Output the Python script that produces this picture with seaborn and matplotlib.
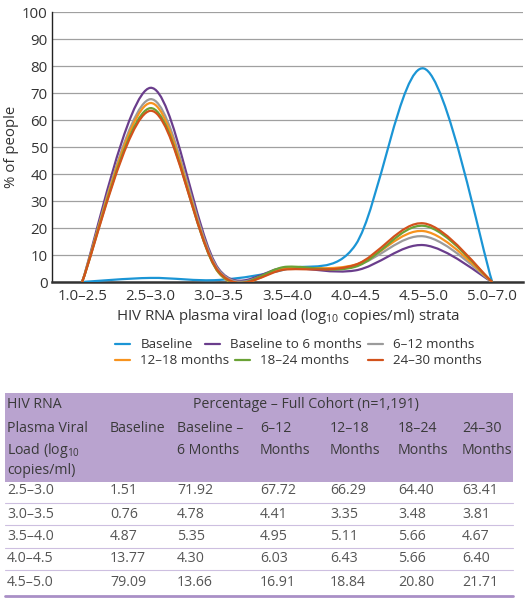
import numpy as np
import matplotlib
matplotlib.use("Agg")
import matplotlib.pyplot as plt
from matplotlib.path import Path
from matplotlib.patches import PathPatch, Rectangle
from matplotlib.lines import Line2D
import seaborn as sns

# ---- data ----
strata = ["1.0–2.5", "2.5–3.0", "3.0–3.5", "3.5–4.0", "4.0–4.5", "4.5–5.0", "5.0–7.0"]
series_names = ["Baseline", "Baseline to 6 months", "6–12 months",
                "12–18 months", "18–24 months", "24–30 months"]
baseline = [0, 1.51, 0.76, 4.87, 13.77, 79.09, 0]
base_6m = [0, 71.92, 4.78, 5.35, 4.30, 13.66, 0]
m6_12 = [0, 67.72, 4.41, 4.95, 6.03, 16.91, 0]
m12_18 = [0, 66.29, 3.35, 5.11, 6.43, 18.84, 0]
m18_24 = [0, 64.40, 3.48, 5.66, 5.66, 20.80, 0]
m24_30 = [0, 63.41, 3.81, 4.67, 6.40, 21.71, 0]
all_series = [baseline, base_6m, m6_12, m12_18, m18_24, m24_30]

colors = ["#1b95d5", "#6a3d8c", "#9b9b9b", "#f7931e", "#6aa236", "#d2521b"]

table_cols = ["Baseline", "Baseline –\n6 Months", "6–12\nMonths", "12–18\nMonths",
              "18–24\nMonths", "24–30\nMonths"]

sns.set_theme(style="white")
plt.rcParams["font.family"] = ["Open Sans", "DejaVu Sans"]
plt.rcParams["mathtext.fontset"] = "custom"
plt.rcParams["mathtext.rm"] = "Open Sans"
plt.rcParams["mathtext.it"] = "Open Sans"
plt.rcParams["text.color"] = "#333333"

W, H = 530, 602
fig = plt.figure(figsize=(W / 100, H / 100), dpi=100)

ax_l, ax_r, ax_t, ax_b = 52, 523, 12, 282
ax = fig.add_axes([ax_l / W, 1 - ax_b / H, (ax_r - ax_l) / W, (ax_b - ax_t) / H])
ax.set_xlim(-0.44, 6.45)
ax.set_ylim(0, 100)

# pixel scale for Excel-like smoothing
sx = (ax_r - ax_l) / (6.45 + 0.44)
sy = (ax_b - ax_t) / 100.0


def smooth_path(xs, ys):
    P = np.column_stack([np.asarray(xs, float) * sx, np.asarray(ys, float) * sy])
    n = len(P)
    verts = [P[0]]
    codes = [Path.MOVETO]
    for i in range(n - 1):
        p0 = P[i - 1] if i > 0 else P[i]
        p1 = P[i]
        p2 = P[i + 1]
        p3 = P[i + 2] if i + 2 < n else P[i + 1]
        d12 = np.linalg.norm(p2 - p1)
        d02 = np.linalg.norm(p2 - p0)
        d13 = np.linalg.norm(p3 - p1)
        f1 = 1 / 6 if d02 / 6 < d12 / 2 else d12 / (2 * d02)
        f2 = 1 / 6 if d13 / 6 < d12 / 2 else d12 / (2 * d13)
        verts += [p1 + f1 * (p2 - p0), p2 - f2 * (p3 - p1), p2]
        codes += [Path.CURVE4] * 3
    verts = np.array(verts) / np.array([sx, sy])
    return Path(verts, codes)


xs = np.arange(len(strata))
for vals, c in zip(all_series, colors):
    ax.add_patch(PathPatch(smooth_path(xs, vals), facecolor="none",
                           edgecolor=c, lw=1.6, zorder=3))

fs = 10.8
ax.set_yticks(range(0, 101, 10))
ax.set_xticks(xs)
ax.set_xticklabels(strata)
ax.yaxis.grid(True, color="#a0a0a0", lw=0.9)
ax.xaxis.grid(False)
for s in ["top", "right"]:
    ax.spines[s].set_visible(False)
ax.spines["left"].set_color("#222222")
ax.spines["left"].set_linewidth(1.0)
ax.spines["bottom"].set_color("#333333")
ax.spines["bottom"].set_linewidth(1.8)
ax.tick_params(axis="both", length=0, labelsize=fs, colors="#333333")
ax.tick_params(axis="y", pad=3)
ax.tick_params(axis="x", pad=5)
ax.set_ylabel("% of people", fontsize=fs, color="#333333", labelpad=2)
ax.set_xlabel(r"HIV RNA plasma viral load (log$_{10}$ copies/ml) strata",
              fontsize=fs, color="#333333", labelpad=2)

# legend: two rows, entries placed like the original
lfs = 9.6
leg_x = [115, 205, 368, 115, 235, 368]
leg_y = [345, 345, 345, 361, 361, 361]
for name, c, lx, ly in zip(series_names, colors, leg_x, leg_y):
    lg = fig.legend([Line2D([], [], color=c, lw=1.6)], [name], loc="center left",
                    bbox_to_anchor=(lx / W, 1 - ly / H), frameon=False, fontsize=lfs,
                    handlelength=1.15, handletextpad=0.75, borderpad=0,
                    borderaxespad=0, labelcolor="#333333")

# ---- table ----
tab = fig.add_axes([0, 0, 1, 1], zorder=-1)
tab.set_xlim(0, W)
tab.set_ylim(H, 0)
tab.axis("off")

tfs = 10.2
tab.add_patch(Rectangle((5, 393), 508, 89, facecolor="#b9a3cf", edgecolor="none"))
hdr_c = "#3a3a3a"
tab.text(7, 405, "HIV RNA", fontsize=tfs, va="center", color=hdr_c)
tab.text(7, 428, "Plasma Viral", fontsize=tfs, va="center", color=hdr_c)
tab.text(7, 450, r"Load (log$_{10}$", fontsize=tfs, va="center", color=hdr_c)
tab.text(7, 471, "copies/ml)", fontsize=tfs, va="center", color=hdr_c)
tab.text(306, 405, "Percentage – Full Cohort (n=1,191)", fontsize=tfs,
         va="center", ha="center", color=hdr_c)

col_x = [110, 177, 260, 330, 398, 462]
for x, lab in zip(col_x, table_cols):
    for j, part in enumerate(lab.split("\n")):
        tab.text(x, 428 + 22 * j, part, fontsize=tfs, va="center", color=hdr_c)

row_y = [490, 514, 537, 559, 582]
row_lines = [503, 525, 548, 570]
for r, y in enumerate(row_y):
    k = r + 1
    tab.text(7, y, strata[k], fontsize=tfs, va="center", color="#555555")
    for x, vals in zip(col_x, all_series):
        tab.text(x, y, f"{vals[k]:.2f}", fontsize=tfs, va="center", color="#555555")
for y in row_lines:
    tab.plot([5, 513], [y, y], color="#cdbfe0", lw=0.8)
tab.plot([5, 513], [596, 596], color="#a98fc6", lw=2)

fig.savefig("out.png", dpi=100)
